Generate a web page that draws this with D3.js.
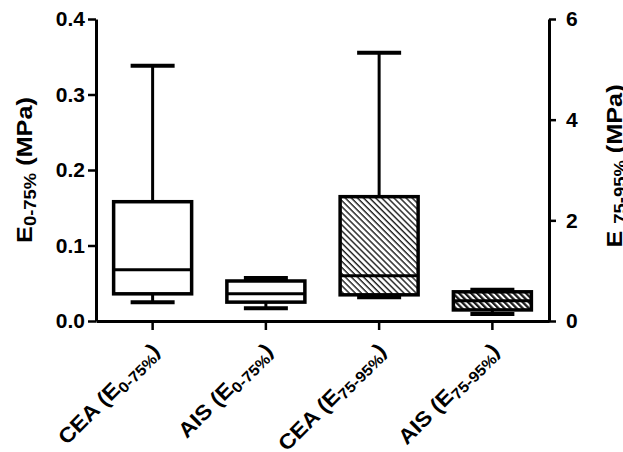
<!DOCTYPE html>
<html><head><meta charset="utf-8">
<script src="https://cdn.jsdelivr.net/npm/d3@7"></script>
<style>
html,body{margin:0;padding:0;background:#fff;}
svg{display:block;}
text{font-family:"Liberation Sans",Arial,sans-serif;font-weight:bold;fill:#000;}
</style></head>
<body>
<script>
// ---- data ----
const groups = ["CEA", "AIS", "CEA", "AIS"];
const subLabels = ["0-75%", "0-75%", "75-95%", "75-95%"];
const axisSide = ["left", "left", "right", "right"];
const whiskerHigh = [0.338, 0.057, 5.33, 0.62];
const q3 = [0.158, 0.053, 2.47, 0.58];
const median = [0.068, 0.036, 0.90, 0.40];
const q1 = [0.036, 0.025, 0.52, 0.22];
const whiskerLow = [0.025, 0.017, 0.47, 0.14];
const hatched = [false, false, true, true];
const leftTicks = [0.0, 0.1, 0.2, 0.3, 0.4];
const rightTicks = [0, 2, 4, 6];

const W = 623, H = 452;
const svg = d3.select("body").append("svg").attr("width", W).attr("height", H);

const x0 = 96, x1 = 549, yTop = 19, yBot = 321;
const keys = groups.map((g, i) => i);
const x = d3.scaleBand().domain(keys).range([x0, x1]);
const yL = d3.scaleLinear().domain([0, 0.4]).range([yBot, yTop]);
const yR = d3.scaleLinear().domain([0, 6]).range([yBot, yTop]);

// hatch patterns
const defs = svg.append("defs");
function makePattern(id, sw) {
  const pat = defs.append("pattern").attr("id", id).attr("patternUnits", "userSpaceOnUse")
    .attr("width", 4.3).attr("height", 4.3).attr("patternTransform", "rotate(-45)");
  pat.append("rect").attr("width", 4.3).attr("height", 4.3).attr("fill", "#fff");
  pat.append("line").attr("x1", 1).attr("y1", 0).attr("x2", 1).attr("y2", 4.3)
    .attr("stroke", "#1a1a1a").attr("stroke-width", sw);
}
makePattern("hatch", 1.4);
makePattern("hatchDense", 2.6);

// boxes
const boxW = 78, capW = 44;
keys.forEach(i => {
  const y = axisSide[i] === "left" ? yL : yR;
  const cx = x(i) + x.bandwidth() / 2;
  const g = svg.append("g").attr("stroke", "#000").attr("stroke-width", 3).attr("fill", "none");
  g.append("line").attr("x1", cx).attr("x2", cx).attr("y1", y(whiskerHigh[i])).attr("y2", y(q3[i]));
  g.append("line").attr("x1", cx).attr("x2", cx).attr("y1", y(q1[i])).attr("y2", y(whiskerLow[i]));
  g.append("line").attr("x1", cx - capW / 2).attr("x2", cx + capW / 2).attr("y1", y(whiskerHigh[i])).attr("y2", y(whiskerHigh[i])).attr("stroke-width", 4);
  g.append("line").attr("x1", cx - capW / 2).attr("x2", cx + capW / 2).attr("y1", y(whiskerLow[i])).attr("y2", y(whiskerLow[i])).attr("stroke-width", 4);
  const hpx = y(q1[i]) - y(q3[i]);
  g.append("rect").attr("x", cx - boxW / 2).attr("width", boxW)
    .attr("y", y(q3[i])).attr("height", hpx).attr("stroke-width", 3.5)
    .attr("fill", hatched[i] ? (hpx < 30 ? "url(#hatchDense)" : "url(#hatch)") : "#fff");
  g.append("line").attr("x1", cx - boxW / 2).attr("x2", cx + boxW / 2).attr("y1", y(median[i])).attr("y2", y(median[i]))
    .attr("stroke-width", 3);
});

// axes
function styleAxis(sel) {
  sel.selectAll("path.domain").attr("stroke", "#000").attr("stroke-width", 3);
  sel.selectAll(".tick line").attr("stroke", "#000").attr("stroke-width", 2.5);
  sel.selectAll(".tick text").style("font-size", "21px").style("font-family", "Liberation Sans, Arial, sans-serif").style("font-weight", "bold");
}
const gL = svg.append("g").attr("transform", `translate(${x0},0)`)
  .call(d3.axisLeft(yL).tickValues(leftTicks).tickFormat(d3.format(".1f")).tickSize(8).tickSizeOuter(0).tickPadding(3));
styleAxis(gL);
const gR = svg.append("g").attr("transform", `translate(${x1},0)`)
  .call(d3.axisRight(yR).tickValues(rightTicks).tickFormat(d3.format("d")).tickSize(7).tickSizeOuter(0).tickPadding(10));
styleAxis(gR);
const gX = svg.append("g").attr("transform", `translate(0,${yBot})`)
  .call(d3.axisBottom(x).tickSize(9).tickSizeOuter(0).tickFormat(""));
styleAxis(gX);

// x labels (rotated)
keys.forEach(i => {
  const cx = x(i) + x.bandwidth() / 2;
  const t = svg.append("text").attr("text-anchor", "end").style("font-size", "21px")
    .attr("transform", `translate(${cx + 8},${yBot + 31}) rotate(-45) scale(1.1,1)`);
  t.append("tspan").text(groups[i] + " (E");
  t.append("tspan").attr("dy", 4).style("font-size", "15px").text(subLabels[i]);
  t.append("tspan").attr("dy", -4).text(")");
});

// y labels
const tl = svg.append("text").attr("text-anchor", "middle").style("font-size", "22px")
  .attr("transform", `translate(32,170) rotate(-90) scale(1.15,1)`);
tl.append("tspan").text("E");
tl.append("tspan").attr("dy", 4).style("font-size", "16px").text("0-75%");
tl.append("tspan").attr("dy", -4).text(" (MPa)");

const tr = svg.append("text").attr("text-anchor", "middle").style("font-size", "22px")
  .attr("transform", `translate(622,166) rotate(-90) scale(1.15,1)`);
tr.append("tspan").text("E ");
tr.append("tspan").attr("dy", 4).style("font-size", "16px").text("75-95%");
tr.append("tspan").attr("dy", -4).text(" (MPa)");
</script>
</body></html>
